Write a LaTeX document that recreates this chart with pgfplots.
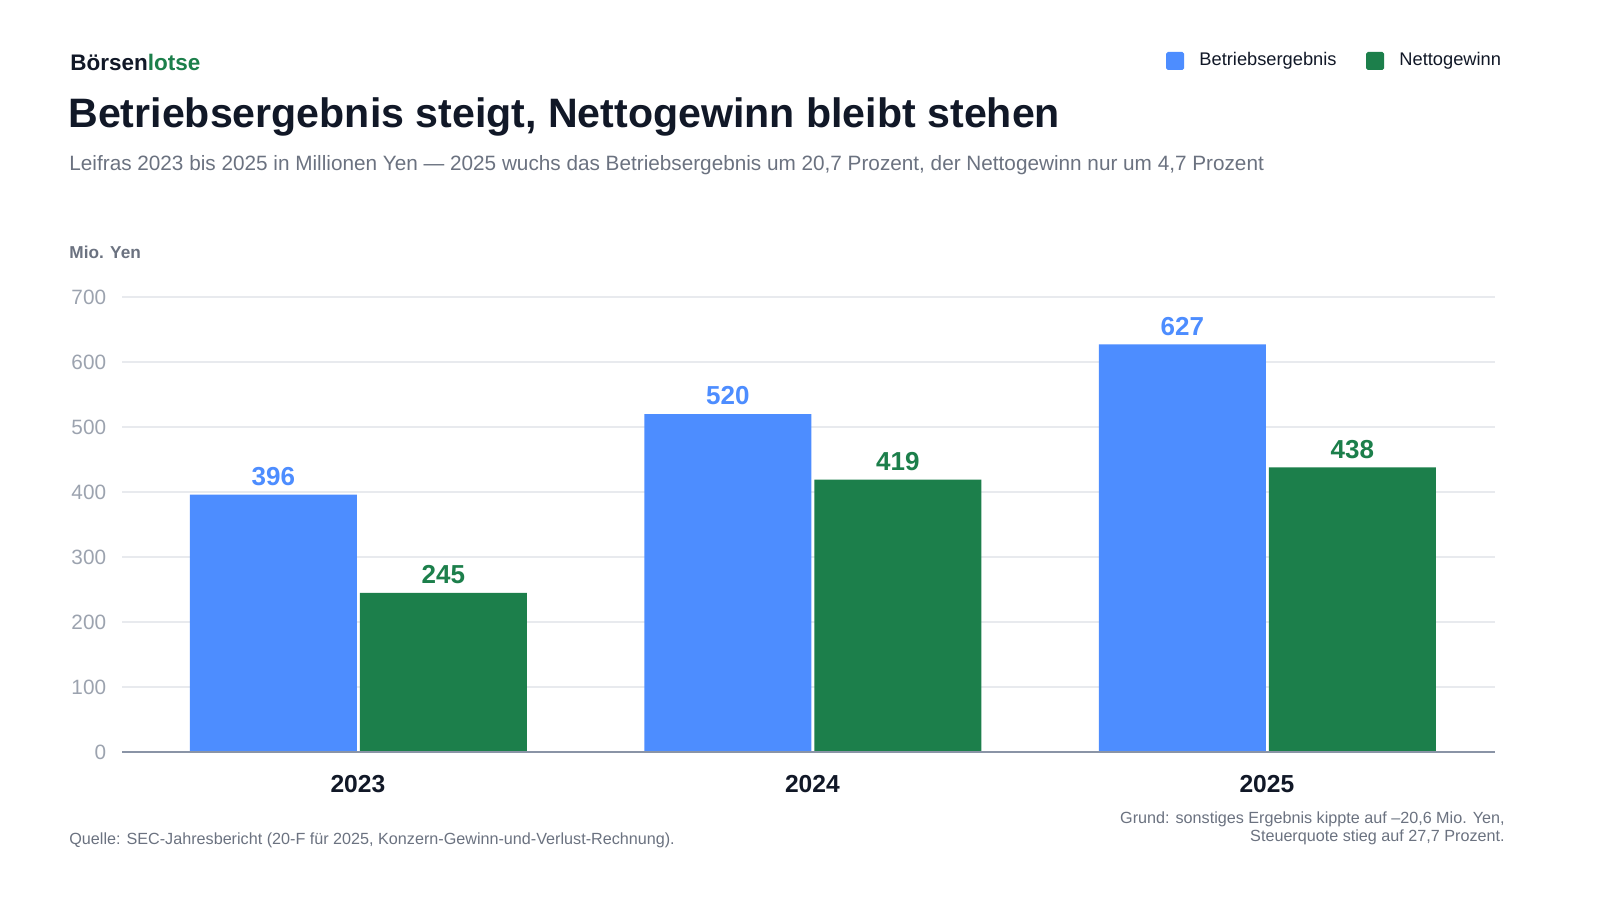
\documentclass[border=0pt]{standalone}
\usepackage{pgfplots}
\pgfplotsset{compat=1.18}
\usepackage{fontspec}
\setmainfont{Liberation Sans}
\definecolor{cblue}{HTML}{4D8DFF}
\definecolor{cgreen}{HTML}{1C7F4B}
\definecolor{cdark}{HTML}{111827}
\definecolor{csub}{HTML}{6B7280}
\definecolor{ctick}{HTML}{9CA3AF}
\definecolor{cgrid}{HTML}{E8EAEE}
\definecolor{caxis}{HTML}{8A94A6}
\newcommand{\fs}[1]{\fontsize{#1}{#1}\selectfont}
\begin{document}
\begin{tikzpicture}[x=1cm,y=1cm]
\useasboundingbox (0,0) rectangle (16,9);
\fill[white] (0,0) rectangle (16,9);
\node[anchor=west,text=cdark,font=\fs{6.4pt}\bfseries] at (0.58,8.38) {Börsen\textcolor{cgreen}{lotse}};
\node[anchor=west,text=cdark,font=\fs{11.7pt}\bfseries] at (0.56,7.83) {Betriebsergebnis steigt, Nettogewinn bleibt stehen};
\node[anchor=west,text=csub,font=\fs{5.9pt}] at (0.57,7.35) {Leifras 2023 bis 2025 in Millionen Yen — 2025 wuchs das Betriebsergebnis um 20,7 Prozent, der Nettogewinn nur um 4,7 Prozent};
\node[anchor=west,text=csub,font=\fs{4.9pt}\bfseries] at (0.57,6.48) {Mio. Yen};
\fill[cblue,rounded corners=0.5pt] (11.66,8.30) rectangle (11.84,8.48);
\node[anchor=west,text=cdark,font=\fs{5.2pt}] at (11.87,8.39) {Betriebsergebnis};
\fill[cgreen,rounded corners=0.5pt] (13.66,8.30) rectangle (13.84,8.48);
\node[anchor=west,text=cdark,font=\fs{5.2pt}] at (13.87,8.39) {Nettogewinn};
\node[anchor=west,text=csub,font=\fs{4.6pt}] at (0.57,0.60) {Quelle: SEC-Jahresbericht (20-F für 2025, Konzern-Gewinn-und-Verlust-Rechnung).};
\node[anchor=east,text=csub,font=\fs{4.6pt},align=right] at (15.17,0.72) {Grund: sonstiges Ergebnis kippte auf –20,6 Mio. Yen,\\[0.5pt]Steuerquote stieg auf 27,7 Prozent.};
\begin{axis}[at={(1.22cm,1.48cm)},anchor=south west,scale only axis,
 width=13.73cm,height=4.55cm,
 xmin=-0.519,xmax=2.502,ymin=0,ymax=700,
 xtick={0,1,2},xticklabels={2023,2024,2025},
 ytick={0,100,...,700},
 axis line style={draw=none},
 major tick length=0pt,
 ymajorgrids,grid style={cgrid,line width=0.4pt},
 xticklabel style={font=\fs{7pt}\bfseries,text=cdark,yshift=-3pt},
 yticklabel style={font=\fs{5.9pt},text=ctick,xshift=-1pt},
 /pgf/number format/assume math mode=true,
 ybar, bar width=1.67cm,
 nodes near coords,
 every node near coord/.append style={font=\fs{7.4pt}\bfseries,yshift=-1pt},
 clip=false]
\addplot[fill=cblue,draw=none,bar shift=-0.845cm,every node near coord/.append style={text=cblue}] coordinates {(0,396) (1,520) (2,627)};
\addplot[fill=cgreen,draw=none,bar shift=0.855cm,every node near coord/.append style={text=cgreen}] coordinates {(0,245) (1,419) (2,438)};
\draw[caxis,line width=0.5pt] (axis cs:-0.519,0) -- (axis cs:2.502,0);
\end{axis}
\end{tikzpicture}
\end{document}
